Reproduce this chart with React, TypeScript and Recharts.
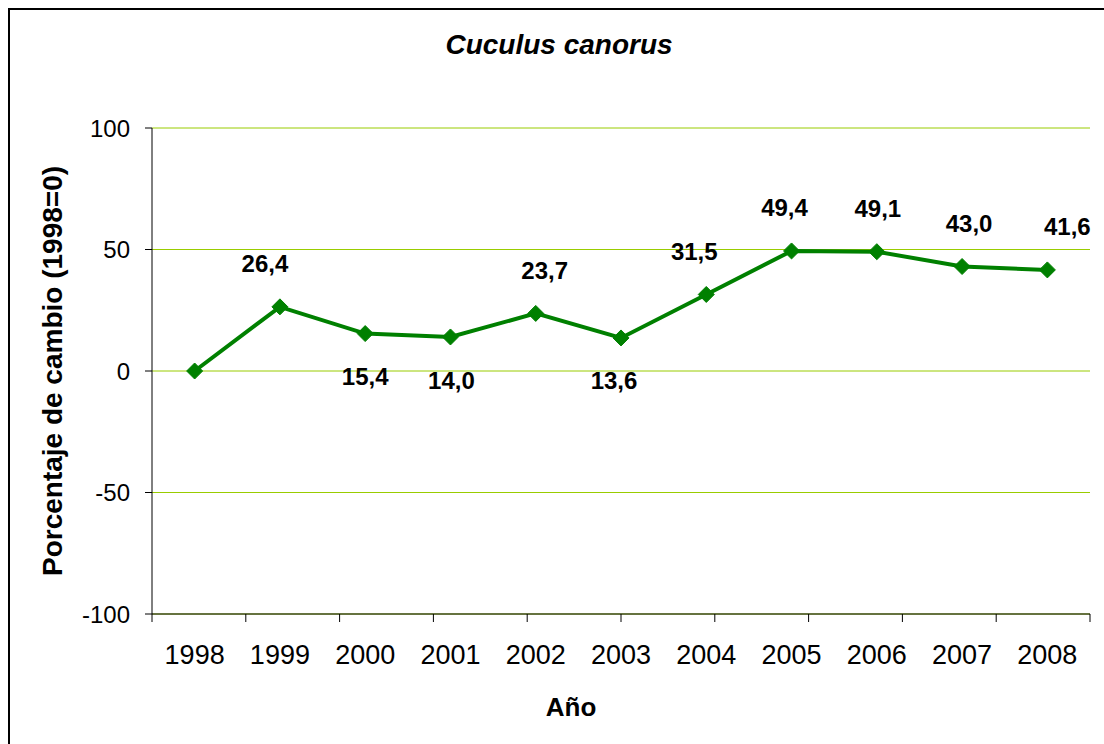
import React from 'react';
import { LineChart, Line, XAxis, YAxis, CartesianGrid, LabelList, Label } from 'recharts';

const years = ['1998', '1999', '2000', '2001', '2002', '2003', '2004', '2005', '2006', '2007', '2008'];
const values = [0, 26.4, 15.4, 14.0, 23.7, 13.6, 31.5, 49.4, 49.1, 43.0, 41.6];
const yTicks = [-100, -50, 0, 50, 100];
const boundaryTicks = [0, 1, 2, 3, 4, 5, 6, 7, 8, 9, 10, 11];
const labelPlacement = ['none', 'above', 'below', 'below', 'above', 'below', 'above', 'above', 'above', 'above', 'above'];
const labelNudge = [0, -15, 0, 1, 9, -7, -12, -7, 1, 7, 20];

const title = 'Cuculus canorus';
const yTitle = 'Porcentaje de cambio (1998=0)';
const xTitle = 'Año';

const data = years.map((year, i) => ({ year, value: values[i] }));

const FONT = "'Liberation Sans', Arial, Helvetica, sans-serif";
const LINE_COLOR = '#008000';
const GRID_COLOR = '#99CC00';

const Diamond = (props: any) => {
  const { cx, cy } = props;
  if (cx == null || cy == null) return null;
  const r = 8;
  return (
    <polygon
      points={`${cx},${cy - r} ${cx + r},${cy} ${cx},${cy + r} ${cx - r},${cy}`}
      fill={LINE_COLOR}
      stroke={LINE_COLOR}
      strokeWidth={1}
    />
  );
};

const ValueLabel = (props: any) => {
  const { x, y, index, value } = props;
  const place = labelPlacement[index];
  if (place === 'none' || x == null || y == null) return null;
  const dy = place === 'above' ? -43 : 43;
  const text = Number(value).toFixed(1).replace('.', ',');
  return (
    <text
      x={x + labelNudge[index]}
      y={y + dy}
      dy="0.355em"
      textAnchor="middle"
      fontFamily={FONT}
      fontWeight="bold"
      fontSize={24}
      fill="#000"
    >
      {text}
    </text>
  );
};

export default function App() {
  return (
    <div
      style={{
        position: 'absolute',
        left: 8,
        top: 8,
        width: 1096,
        height: 736,
        boxSizing: 'border-box',
        borderLeft: '2px solid #000',
        borderTop: '2px solid #000',
        background: '#fff',
        fontFamily: FONT,
      }}
    >
      <div
        style={{
          position: 'absolute',
          left: 399,
          top: 21,
          width: 300,
          textAlign: 'center',
          fontSize: 28,
          lineHeight: '28px',
          fontWeight: 'bold',
          fontStyle: 'italic',
          color: '#000',
          fontFamily: FONT,
        }}
      >
        {title}
      </div>
      <LineChart
        width={1094}
        height={734}
        data={data}
        margin={{ top: 118, right: 14, left: 0, bottom: 0 }}
      >
        <CartesianGrid vertical={false} stroke={GRID_COLOR} strokeWidth={1} xAxisId="cat" />
        <XAxis
          xAxisId="bound"
          type="number"
          domain={[0, 11]}
          allowDataOverflow
          ticks={boundaryTicks}
          interval={0}
          tickFormatter={() => ''}
          tickSize={8}
          height={8}
          axisLine={{ stroke: '#000', strokeWidth: 1 }}
          tickLine={{ stroke: '#000', strokeWidth: 1 }}
        />
        <XAxis
          xAxisId="cat"
          dataKey="year"
          type="category"
          scale="band"
          interval={0}
          axisLine={false}
          tickLine={false}
          tickSize={0}
          tickMargin={23}
          height={122}
          tick={{ fontSize: 27, fill: '#000', fontFamily: FONT }}
        >
          <Label
            value={xTitle}
            position="insideBottom"
            offset={28}
            dx={-50}
            style={{ fontSize: 26, fontWeight: 'bold', fill: '#000', fontFamily: FONT }}
          />
        </XAxis>
        <YAxis
          type="number"
          domain={[-100, 100]}
          ticks={yTicks}
          interval={0}
          width={142}
          tickSize={7}
          tickMargin={15}
          axisLine={{ stroke: '#000', strokeWidth: 1 }}
          tickLine={{ stroke: '#000', strokeWidth: 1 }}
          tick={{ fontSize: 24, fill: '#000', fontFamily: FONT }}
        >
          <Label
            value={yTitle}
            angle={-90}
            position="insideLeft"
            offset={42}
            style={{ textAnchor: 'middle', fontSize: 28, fontWeight: 'bold', fill: '#000', fontFamily: FONT }}
          />
        </YAxis>
        <Line
          xAxisId="cat"
          type="linear"
          dataKey="value"
          stroke={LINE_COLOR}
          strokeWidth={4}
          dot={<Diamond />}
          activeDot={false}
          isAnimationActive={false}
        >
          <LabelList dataKey="value" content={<ValueLabel />} />
        </Line>
      </LineChart>
    </div>
  );
}
